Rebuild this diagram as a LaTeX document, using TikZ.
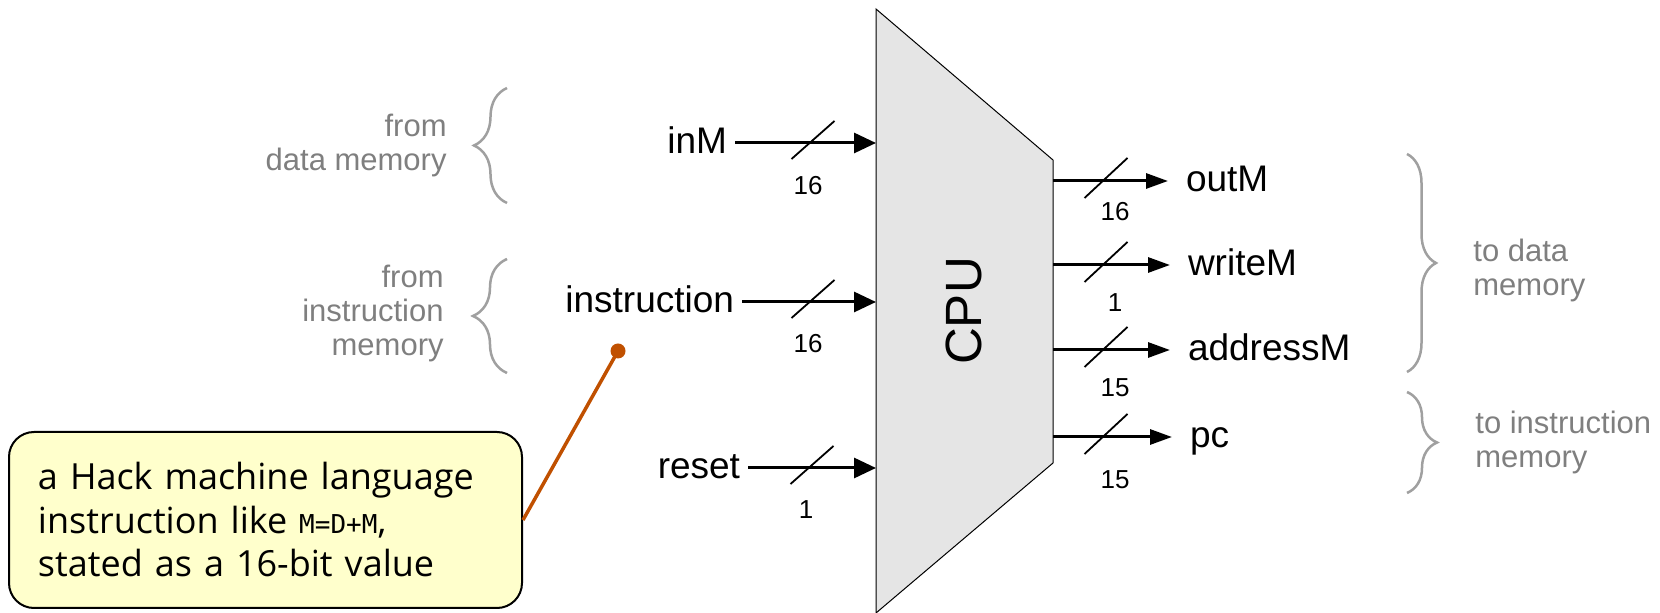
\documentclass[tikz,border=0pt]{standalone}
\usepackage{fontspec}
\setmainfont{Liberation Sans}
\newfontfamily\notefont{Open Sans}
\newfontfamily\codefont{DejaVu Sans Mono}
\usetikzlibrary{arrows.meta,decorations.pathreplacing}
\definecolor{cpufill}{HTML}{E5E5E5}
\definecolor{notefill}{HTML}{FFFFCC}
\definecolor{noteline}{HTML}{C05000}
\definecolor{graytext}{HTML}{7F7F7F}
\definecolor{bracegray}{HTML}{A0A0A0}
\begin{document}
\begin{tikzpicture}[x=0.5pt,y=-0.5pt,
  busin/.style={line width=1.5pt,-{Triangle[length=11pt,width=10pt]}},
  busout/.style={line width=1.5pt,-{Triangle[length=11pt,width=7.5pt]}},
  slash/.style={line width=0.9pt},
  inlbl/.style={font=\fontsize{18.5}{20}\selectfont, inner sep=0pt, outer sep=4pt,
     text height=10.5pt, text depth=0pt, anchor=east},
  outlbl/.style={font=\fontsize{18.5}{20}\selectfont, inner sep=0pt, outer sep=9pt,
     text height=10.5pt, text depth=0pt, anchor=west},
  bitlbl/.style={font=\fontsize{13}{14}\selectfont, inner sep=0pt},
  grp/.style={font=\fontsize{15.5}{17}\selectfont, text=graytext, inner sep=0pt},
  brc/.style={draw=bracegray, line width=1.25pt, decorate},
  note/.style={draw=black, line width=1pt, fill=notefill, rounded corners=12.5pt,
     minimum width=256.5pt, minimum height=88pt, inner xsep=14.5pt, inner ysep=0pt,
     text width=227.5pt, align=left,
     font=\notefont\fontsize{18}{21.75}\selectfont},
  conn/.style={draw=noteline, line width=1.75pt},
]
\useasboundingbox (0,0) rectangle (1660,613);

% CPU body
\coordinate (cTL) at (876,9);
\coordinate (cTR) at (1053,160);
\coordinate (cBR) at (1053,463);
\coordinate (cBL) at (876,613);
\filldraw[fill=cpufill, draw=black, line width=0.5pt] (cTL) -- (cTR) -- (cBR) -- (cBL) -- cycle;
\node[font=\fontsize{25.5}{26}\selectfont, rotate=90, inner sep=0pt] (cpu) at (964,311) {CPU};

% inputs
\node[inlbl] (inM) at (735,143) {inM};
\node[inlbl] (instr) at (742,302) {instruction};
\node[inlbl] (reset) at (748,468) {reset};
\draw[busin] (inM) -- (inM -| cTL);
\draw[busin] (instr) -- (instr -| cTL);
\draw[busin] (reset) -- (reset -| cTL);
\draw[slash] (791.5,159) -- (834.5,121);
\draw[slash] (791.5,318) -- (834.5,280);
\draw[slash] (790.5,484) -- (833.5,446);
\node[bitlbl] (binM) at (808,186) {16};
\node[bitlbl] (binstr) at (808,344) {16};
\node[bitlbl] (breset) at (806,510) {1};

% outputs
\node[outlbl] (outM) at (1168,181) {outM};
\node[outlbl] (writeM) at (1170,265) {writeM};
\node[outlbl] (addrM) at (1170,350) {addressM};
\node[outlbl] (pc) at (1172,437) {pc};
\draw[busout] (outM -| cTR) -- (outM);
\draw[busout] (writeM -| cTR) -- (writeM);
\draw[busout] (addrM -| cTR) -- (addrM);
\draw[busout] (pc -| cTR) -- (pc);
\draw[slash] (1084.5,198) -- (1127.5,158);
\draw[slash] (1084.5,282) -- (1127.5,242);
\draw[slash] (1084.5,367) -- (1127.5,327);
\draw[slash] (1084.5,454) -- (1127.5,414);
\node[bitlbl] (boutM) at (1115,212) {16};
\node[bitlbl] (bwriteM) at (1115,303) {1};
\node[bitlbl] (baddrM) at (1115,388) {15};
\node[bitlbl] (bpc) at (1115,480) {15};

% left groups (base anchor = baseline of last line)
\node[grp, anchor=base east, align=right] (fromdata) at (447,171) {from\\data memory};
\node[grp, anchor=base east, align=right] (frominstr) at (444,356) {from\\instruction\\memory};
\draw[brc, decoration={brace, amplitude=16.5pt}] (507,203) -- (507,88);
\draw[brc, decoration={brace, amplitude=17pt}] (507,373) -- (507,259);

% right groups
\node[grp, anchor=base west, align=left] (todata) at (1473,296) {to data\\memory};
\node[grp, anchor=base west, align=left] (toinstr) at (1475,468) {to instruction\\memory};
\draw[brc, decoration={brace, amplitude=14.5pt}] (1407,154) -- (1407,372);
\draw[brc, decoration={brace, amplitude=15pt}] (1407,392) -- (1407,493);

% callout
\node[note, anchor=north west] (note) at (8,431)
  {a Hack machine language\\instruction like {\codefont\fontsize{13}{13}\selectfont M=D+M},\\stated as a 16-bit value};
\coordinate (dot) at (618,351);
\draw[conn] (note.east) -- (dot);
\fill[noteline] (dot) circle[radius=3.75pt];
\end{tikzpicture}
\end{document}
